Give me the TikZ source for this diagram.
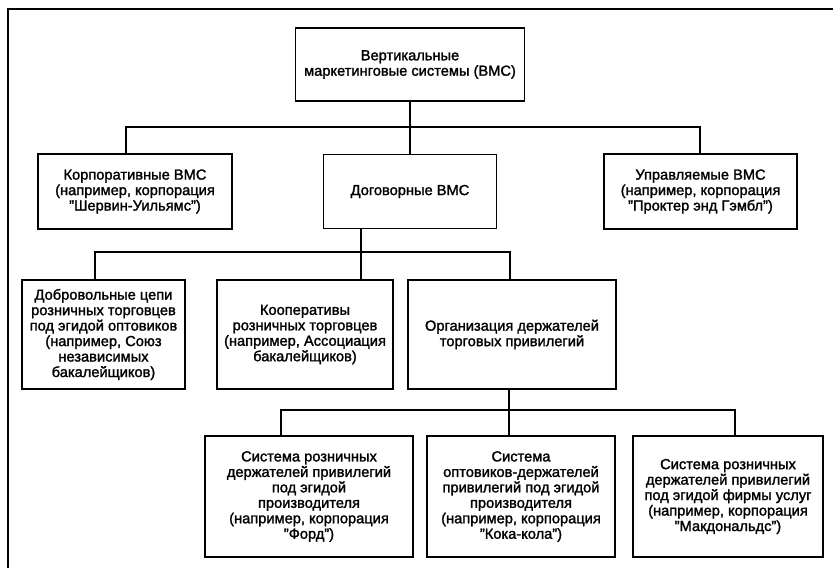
\documentclass[tikz,border=0pt]{standalone}
\usepackage{fontspec}
\setmainfont{Liberation Sans}[FakeBold=1.6]
\usetikzlibrary{positioning, calc}

\begin{document}
\begin{tikzpicture}[
  x=0.03cm, y=-0.03cm,
  box/.style 2 args={draw=black, line width=1.4pt, align=center, inner sep=2pt,
                     font=\fontsize{12.5}{13.2}\selectfont,
                     minimum width=#1*0.03cm, minimum height=#2*0.03cm},
  link/.style={draw=black, line width=1.2pt},
  frame/.style={draw=black, line width=1.5pt},
]
\useasboundingbox (0,0) rectangle (833,568);
\draw[frame] (833,9) -- (8,9) -- (8,568);
% top level
\node[box={229}{73}] (vms) at (410,64.5) {Вертикальные\\маркетинговые системы (ВМС)};
% first level
\node[box={194}{75}] (corp) at (135,191.5)
      {Корпоративные ВМС\\(например, корпорация\\"Шервин-Уильямс")};
\node[box={173}{74}] (dog) at (410,191.5) {Договорные ВМС};
\node[box={193}{75}] (upr) at (700.5,191.5)
      {Управляемые ВМС\\(например, корпорация\\"Проктер энд Гэмбл")};
% second level
\node[box={163}{109}] (dobr) at (103.5,334.5)
      {Добровольные цепи\\розничных торговцев\\под эгидой оптовиков\\(например, Союз\\независимых\\бакалейщиков)};
\node[box={176}{109}] (coop) at (305,334.5)
      {Кооперативы\\розничных торговцев\\(например, Ассоциация\\бакалейщиков)};
\node[box={208}{109}] (org) at (512,334.5)
      {Организация держателей\\торговых привилегий};
% third level
\node[box={208}{121}] (sysA) at (309,496.5)
      {Система розничных\\держателей привилегий\\под эгидой\\производителя\\(например, корпорация\\"Форд")};
\node[box={188}{121}] (sysB) at (521,496.5)
      {Система\\оптовиков-держателей\\привилегий под эгидой\\производителя\\(например, корпорация\\"Кока-кола")};
\node[box={190}{121}] (sysC) at (728,496.5)
      {Система розничных\\держателей привилегий\\под эгидой фирмы услуг\\(например, корпорация\\"Макдональдс")};
% connectors
\coordinate (b1l) at (126,127);
\coordinate (b1r) at (700,127);
\draw[link] (vms.south) -- (dog.north);
\draw[link] (b1l |- corp.north) -- (b1l) -- (b1r) -- (b1r |- upr.north);
\coordinate (b2l) at (95,252);
\coordinate (b2m) at (361,252);
\coordinate (b2r) at (510,252);
\draw[link] (b2l |- dobr.north) -- (b2l) -- (b2r) -- (b2r |- org.north);
\draw[link] (b2m |- dog.south) -- (b2m |- coop.north);
\coordinate (b3l) at (281,410);
\coordinate (b3m) at (509,410);
\coordinate (b3r) at (735,410);
\draw[link] (b3l |- sysA.north) -- (b3l) -- (b3r) -- (b3r |- sysC.north);
\draw[link] (b3m |- org.south) -- (b3m |- sysB.north);
\end{tikzpicture}
\end{document}
